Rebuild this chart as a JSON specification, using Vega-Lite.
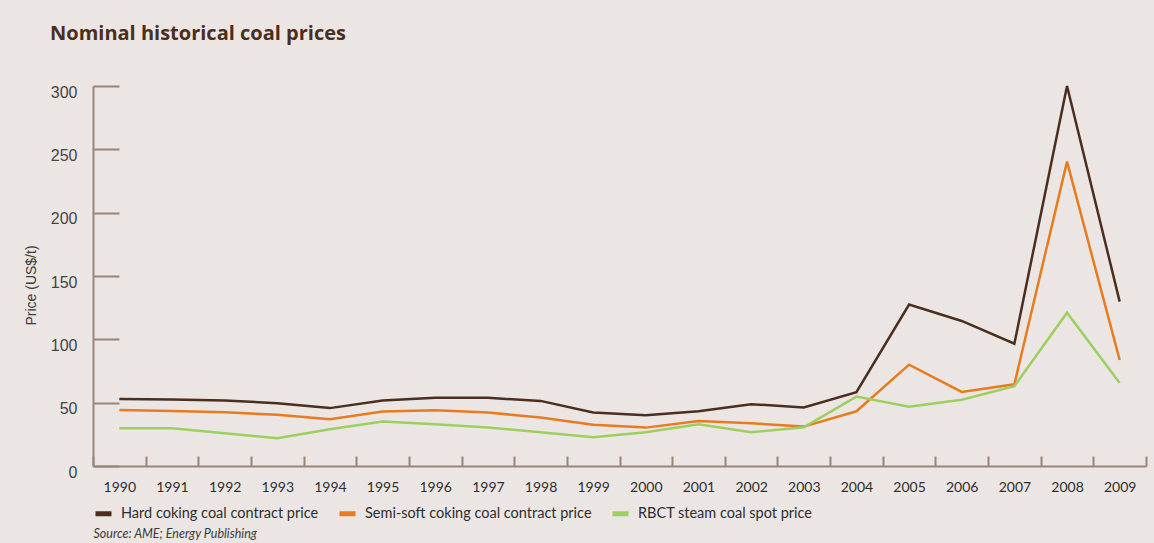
{
  "$schema": "https://vega.github.io/schema/vega-lite/v6.json",
  "width": 1053,
  "height": 380,
  "autosize": {"type": "none"},
  "padding": {"left": 93, "top": 86, "right": 8, "bottom": 77},
  "background": "#ebe6e3",
  "title": {
    "text": "Nominal historical coal prices",
    "anchor": "start",
    "frame": "group",
    "dx": -43,
    "offset": 37,
    "font": "Open Sans",
    "fontWeight": "bold",
    "fontSize": 20,
    "color": "#4a2e1c"
  },
  "config": {
    "view": {"stroke": null},
    "axis": {"grid": false, "domainColor": "#9b8577", "tickColor": "#9b8577", "domainWidth": 2, "tickWidth": 2}
  },
  "data": {
    "values": [
      {"year": "1990", "series": "Hard coking coal contract price", "price": 52.8},
      {"year": "1991", "series": "Hard coking coal contract price", "price": 52.5},
      {"year": "1992", "series": "Hard coking coal contract price", "price": 51.7},
      {"year": "1993", "series": "Hard coking coal contract price", "price": 49.6},
      {"year": "1994", "series": "Hard coking coal contract price", "price": 45.7},
      {"year": "1995", "series": "Hard coking coal contract price", "price": 51.7},
      {"year": "1996", "series": "Hard coking coal contract price", "price": 53.8},
      {"year": "1997", "series": "Hard coking coal contract price", "price": 53.8},
      {"year": "1998", "series": "Hard coking coal contract price", "price": 51.4},
      {"year": "1999", "series": "Hard coking coal contract price", "price": 42.2},
      {"year": "2000", "series": "Hard coking coal contract price", "price": 40.1},
      {"year": "2001", "series": "Hard coking coal contract price", "price": 43.3},
      {"year": "2002", "series": "Hard coking coal contract price", "price": 48.8},
      {"year": "2003", "series": "Hard coking coal contract price", "price": 46.2},
      {"year": "2004", "series": "Hard coking coal contract price", "price": 58.3},
      {"year": "2005", "series": "Hard coking coal contract price", "price": 127.5},
      {"year": "2006", "series": "Hard coking coal contract price", "price": 114.5},
      {"year": "2007", "series": "Hard coking coal contract price", "price": 96.6},
      {"year": "2008", "series": "Hard coking coal contract price", "price": 300},
      {"year": "2009", "series": "Hard coking coal contract price", "price": 129.8},
      {"year": "1990", "series": "Semi-soft coking coal contract price", "price": 44.3},
      {"year": "1991", "series": "Semi-soft coking coal contract price", "price": 43.5},
      {"year": "1992", "series": "Semi-soft coking coal contract price", "price": 42.5},
      {"year": "1993", "series": "Semi-soft coking coal contract price", "price": 40.4},
      {"year": "1994", "series": "Semi-soft coking coal contract price", "price": 37},
      {"year": "1995", "series": "Semi-soft coking coal contract price", "price": 43},
      {"year": "1996", "series": "Semi-soft coking coal contract price", "price": 44},
      {"year": "1997", "series": "Semi-soft coking coal contract price", "price": 42.2},
      {"year": "1998", "series": "Semi-soft coking coal contract price", "price": 38.3},
      {"year": "1999", "series": "Semi-soft coking coal contract price", "price": 32.5},
      {"year": "2000", "series": "Semi-soft coking coal contract price", "price": 30.3},
      {"year": "2001", "series": "Semi-soft coking coal contract price", "price": 35.6},
      {"year": "2002", "series": "Semi-soft coking coal contract price", "price": 33.8},
      {"year": "2003", "series": "Semi-soft coking coal contract price", "price": 31.1},
      {"year": "2004", "series": "Semi-soft coking coal contract price", "price": 43.2},
      {"year": "2005", "series": "Semi-soft coking coal contract price", "price": 80},
      {"year": "2006", "series": "Semi-soft coking coal contract price", "price": 58.5},
      {"year": "2007", "series": "Semi-soft coking coal contract price", "price": 64.5},
      {"year": "2008", "series": "Semi-soft coking coal contract price", "price": 240.3},
      {"year": "2009", "series": "Semi-soft coking coal contract price", "price": 83.7},
      {"year": "1990", "series": "RBCT steam coal spot price", "price": 29.8},
      {"year": "1991", "series": "RBCT steam coal spot price", "price": 29.8},
      {"year": "1992", "series": "RBCT steam coal spot price", "price": 25.9},
      {"year": "1993", "series": "RBCT steam coal spot price", "price": 21.9},
      {"year": "1994", "series": "RBCT steam coal spot price", "price": 29},
      {"year": "1995", "series": "RBCT steam coal spot price", "price": 35.1},
      {"year": "1996", "series": "RBCT steam coal spot price", "price": 33},
      {"year": "1997", "series": "RBCT steam coal spot price", "price": 30.3},
      {"year": "1998", "series": "RBCT steam coal spot price", "price": 26.7},
      {"year": "1999", "series": "RBCT steam coal spot price", "price": 22.7},
      {"year": "2000", "series": "RBCT steam coal spot price", "price": 26.7},
      {"year": "2001", "series": "RBCT steam coal spot price", "price": 33},
      {"year": "2002", "series": "RBCT steam coal spot price", "price": 26.7},
      {"year": "2003", "series": "RBCT steam coal spot price", "price": 30.6},
      {"year": "2004", "series": "RBCT steam coal spot price", "price": 54.8},
      {"year": "2005", "series": "RBCT steam coal spot price", "price": 46.7},
      {"year": "2006", "series": "RBCT steam coal spot price", "price": 52.3},
      {"year": "2007", "series": "RBCT steam coal spot price", "price": 63},
      {"year": "2008", "series": "RBCT steam coal spot price", "price": 121},
      {"year": "2009", "series": "RBCT steam coal spot price", "price": 65.5}
    ]
  },
  "mark": {"type": "line", "strokeWidth": 2.5},
  "encoding": {
    "x": {
      "field": "year",
      "type": "ordinal",
      "scale": {"type": "band", "paddingInner": 0, "paddingOuter": 0},
      "axis": {
        "title": "Source: AME; Energy Publishing",
        "titleFont": "Lato",
        "titleFontStyle": "italic",
        "titleFontWeight": "normal",
        "titleFontSize": 12.5,
        "titleColor": "#3a3a3a",
        "titleAnchor": "start",
        "titleAlign": "left",
        "titleBaseline": "middle",
        "titleX": 0,
        "titleY": 67,
        "labelAngle": 0,
        "labelFont": "Lato",
        "labelFontSize": 14,
        "labelColor": "#2e2e2e",
        "labelPadding": 31,
        "labelBaseline": "middle",
        "tickSize": -10,
        "tickBand": "extent"
      }
    },
    "y": {
      "field": "price",
      "type": "quantitative",
      "scale": {"domain": [0, 300], "nice": false},
      "axis": {
        "title": "Price (US$/t)",
        "titleFont": "Liberation Sans",
        "titleFontWeight": "normal",
        "titleFontSize": 14,
        "titleColor": "#3a3a3a",
        "titleX": -62,
        "titleY": 199,
        "titleAngle": -90,
        "titleAlign": "center",
        "titleBaseline": "middle",
        "values": [0, 50, 100, 150, 200, 250, 300],
        "labelFont": "Liberation Sans",
        "labelFontSize": 16,
        "labelColor": "#444444",
        "labelPadding": 42,
        "labelOffset": 6,
        "tickSize": -26
      }
    },
    "color": {
      "field": "series",
      "type": "nominal",
      "scale": {
        "domain": ["Hard coking coal contract price", "Semi-soft coking coal contract price", "RBCT steam coal spot price"],
        "range": ["#4b2e1e", "#e87b1e", "#9ccf60"]
      },
      "legend": {
        "title": null,
        "orient": "none",
        "direction": "horizontal",
        "legendX": 0,
        "legendY": 417,
        "symbolType": "stroke",
        "symbolStrokeWidth": 5,
        "symbolSize": 256,
        "labelFont": "Lato",
        "labelFontSize": 14.5,
        "labelColor": "#2e2e2e",
        "labelOffset": 7,
        "columnPadding": 10,
        "labelLimit": 400
      }
    }
  }
}
